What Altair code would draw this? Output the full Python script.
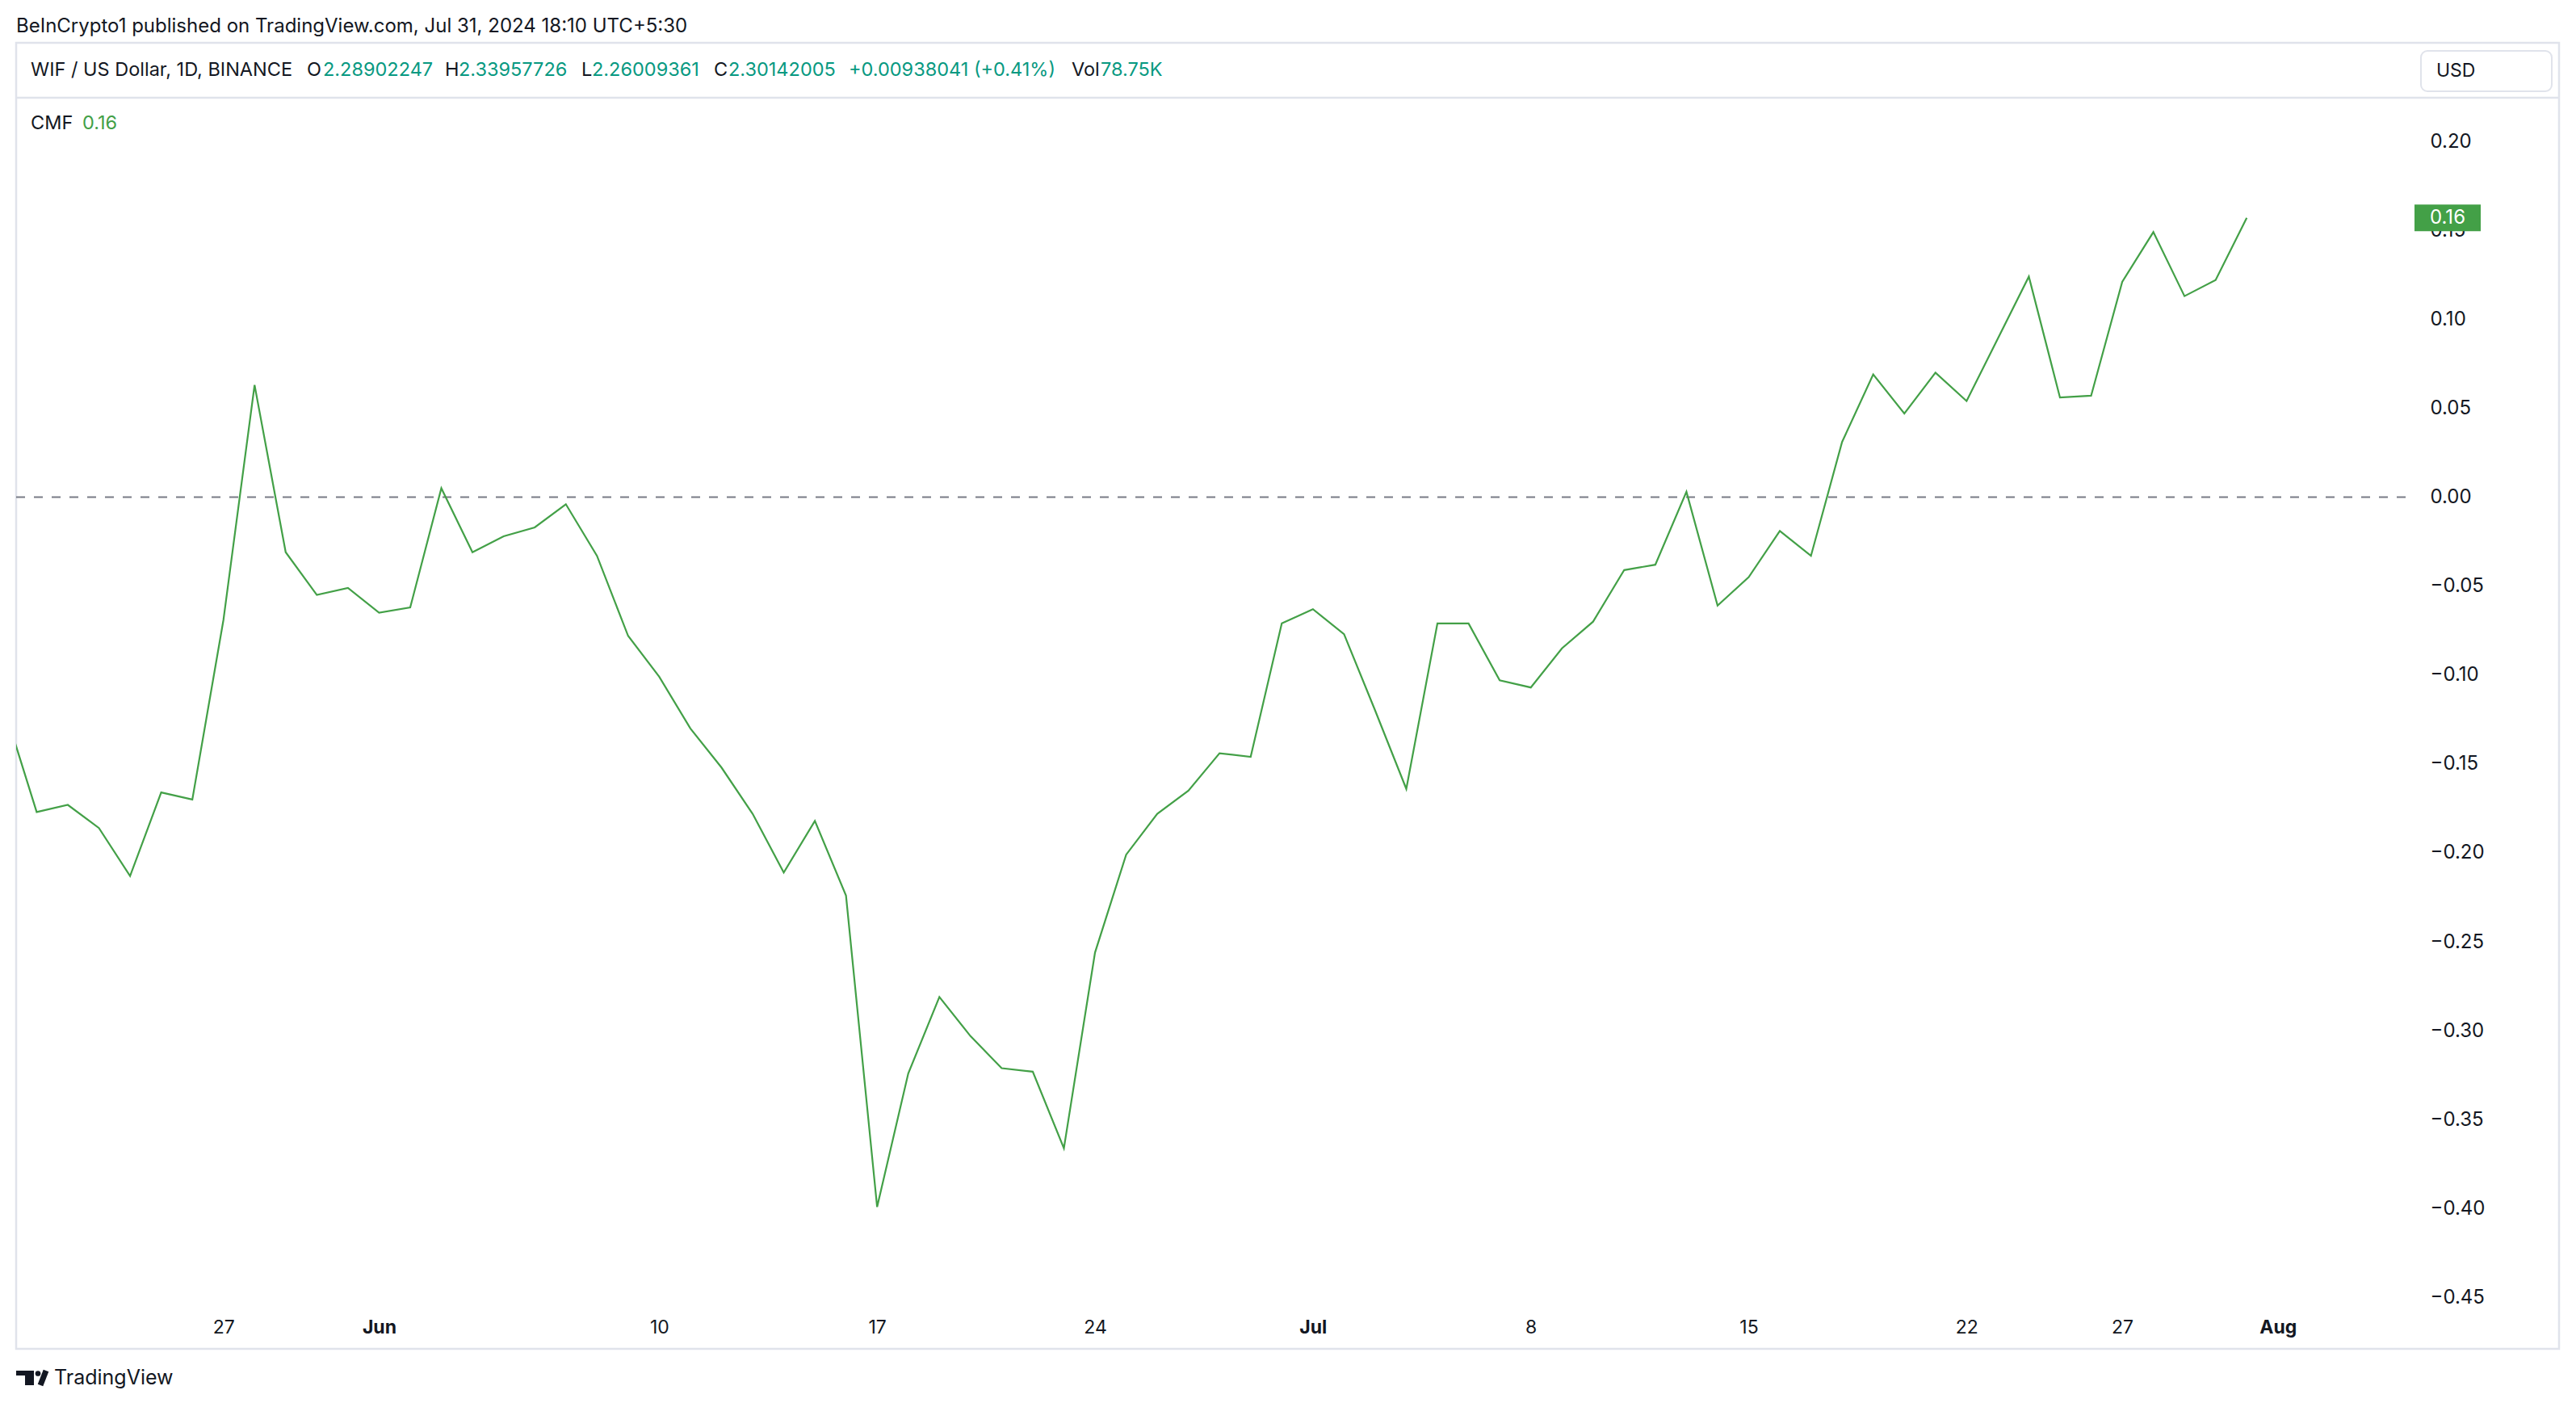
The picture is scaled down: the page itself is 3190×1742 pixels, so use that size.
import json
import altair as alt
import pandas as pd

# ---------------- data ----------------
dates = [d.strftime("%Y-%m-%d") for d in pd.date_range("2024-05-20", "2024-07-31", freq="D")]
cmf = [
    -0.121, -0.177, -0.173, -0.186, -0.213, -0.166, -0.170, -0.069, 0.063, -0.031, -0.055, -0.051,  # May 20-31
    -0.065, -0.062, 0.005, -0.031, -0.022, -0.017, -0.004, -0.033, -0.078, -0.101,                  # Jun 1-10
    -0.130, -0.152, -0.178, -0.211, -0.182, -0.224, -0.399, -0.324, -0.281, -0.303,                 # Jun 11-20
    -0.321, -0.323, -0.366, -0.256, -0.201, -0.178, -0.165, -0.144, -0.146, -0.071,                 # Jun 21-30
    -0.063, -0.077, -0.120, -0.164, -0.071, -0.071, -0.103, -0.107, -0.085, -0.070,                 # Jul 1-10
    -0.041, -0.038, 0.003, -0.061, -0.045, -0.019, -0.033, 0.031, 0.069, 0.047,                     # Jul 11-20
    0.070, 0.054, 0.089, 0.124, 0.056, 0.057, 0.121, 0.149, 0.113, 0.122, 0.157,                    # Jul 21-31
]

y_ticks = [0.20, 0.15, 0.10, 0.05, 0.00, -0.05, -0.10, -0.15, -0.20, -0.25, -0.30, -0.35, -0.40, -0.45]
x_tick_keys = ["05-27", "06-01", "06-10", "06-17", "06-24", "07-01", "07-08", "07-15", "07-22", "07-27", "08-01"]
x_tick_labels = ["27", "Jun", "10", "17", "24", "Jul", "8", "15", "22", "27", "Aug"]

top_text = "BeInCrypto1 published on TradingView.com, Jul 31, 2024 18:10 UTC+5:30"
header_parts = ["WIF / US Dollar, 1D, BINANCE", "O", "2.28902247", "H", "2.33957726", "L", "2.26009361",
                "C", "2.30142005", "+0.00938041 (+0.41%)", "Vol", "78.75K"]
header_kinds = ["k", "k", "v", "k", "v", "k", "v", "k", "v", "v", "k", "v"]
indicator_name = "CMF"
indicator_value = "0.16"
currency = "USD"
brand = "TradingView"

# ---------------- style / layout ----------------
FONT = "Inter"
DARK = "#131722"
TEAL = "#089981"
GREEN = "#43A047"
BORDER = "#E0E3EB"
W, H = 3149, 1617

header_x = [18, 360, 380, 531, 548, 700, 713, 864, 882, 1031, 1307, 1343]

df = pd.DataFrame({"date": dates, "cmf": cmf})

xscale = alt.Scale(
    type="utc",
    domain=[alt.DateTime(year=2024, month=5, date=20, hours=8, minutes=10, utc=True),
            alt.DateTime(year=2024, month=8, date=5, hours=3, minutes=7, utc=True)],
    range=[0, 2960], nice=False,
)
yscale = alt.Scale(domain=[-0.45, 0.20], range=[1553.6, 122], nice=False, zero=False)

x_values = [alt.DateTime(year=2024, month=int(k[:2]), date=int(k[3:]), utc=True) for k in x_tick_keys]
label_expr = f"{json.dumps(x_tick_labels)}[indexof({json.dumps(x_tick_keys)}, utcFormat(datum.value, '%m-%d'))]"

xaxis = alt.Axis(
    values=x_values, labelExpr=label_expr,
    labelFontWeight={"condition": {"test": "utcdate(datum.value) == 1", "value": "bold"}, "value": "normal"},
    orient="bottom", offset=-27, domain=False, ticks=False, tickSize=0, labelPadding=0,
    labelBaseline="middle", labelFont=FONT, labelFontSize=23, labelColor=DARK, grid=False,
    title=None, labelFlush=False, labelOverlap=False,
)
yaxis = alt.Axis(
    values=y_ticks, format=".2f", orient="right", offset=-160, domain=False, ticks=False, tickSize=0,
    labelPadding=0, labelAlign="left", labelBaseline="middle", labelFont=FONT, labelFontSize=24,
    labelColor=DARK, grid=False, title=None, labelFlush=False, labelOverlap=False,
)

line = alt.Chart(df).mark_line(color=GREEN, strokeWidth=2.2, clip=True).encode(
    x=alt.X("date:T", scale=xscale, axis=xaxis),
    y=alt.Y("cmf:Q", scale=yscale, axis=yaxis),
)

zero = alt.Chart(pd.DataFrame({"cmf": [0.0]})).mark_rule(
    color="#787B86", strokeWidth=2, strokeDash=[11, 11]
).encode(y=alt.Y("cmf:Q", scale=yscale, axis=yaxis), x=alt.value(0), x2=alt.value(2960))

last = pd.DataFrame({"cmf": [cmf[-1]]})
last_box = alt.Chart(last).mark_rule(color=GREEN, strokeWidth=33, strokeCap="butt").encode(
    y=alt.Y("cmf:Q", scale=yscale, axis=yaxis), x=alt.value(2970), x2=alt.value(3052)
)
last_txt = alt.Chart(last).mark_text(
    align="left", baseline="middle", color="white", font=FONT, fontSize=24
).encode(y=alt.Y("cmf:Q", scale=yscale, axis=yaxis), x=alt.value(2989),
         text=alt.Text("cmf:Q", format=".2f"))

one = pd.DataFrame({"a": [0]})

sep = alt.Chart(one).mark_rule(color=BORDER, strokeWidth=2.5).encode(
    y=alt.value(68), x=alt.value(0), x2=alt.value(W)
)
usd_box = alt.Chart(one).mark_rect(fill="white", stroke=BORDER, strokeWidth=2, cornerRadius=8).encode(
    x=alt.value(2978), x2=alt.value(3140), y=alt.value(10), y2=alt.value(60)
)


def txt(s, x, y, size=24, color=DARK, weight="normal"):
    return alt.Chart(pd.DataFrame({"t": [s]})).mark_text(
        align="left", baseline="middle", font=FONT, fontSize=size, color=color, fontWeight=weight
    ).encode(x=alt.value(x), y=alt.value(y), text="t:N")


texts = [txt(top_text, 0, -20, size=24)]
for part, kind, hx in zip(header_parts, header_kinds, header_x):
    texts.append(txt(part, hx, 34, size=23.5, color=TEAL if kind == "v" else DARK))
texts.append(txt(indicator_name, 18, 100, size=23.5))
texts.append(txt(indicator_value, 82, 100, size=23.5, color=GREEN))
texts.append(txt(currency, 2997, 35, size=23))
texts.append(txt(brand, 47, 1653, size=25))

# logo
logo_bar = alt.Chart(one).mark_rect(color=DARK).encode(
    x=alt.value(0), x2=alt.value(22), y=alt.value(1644), y2=alt.value(1650))
logo_stem = alt.Chart(one).mark_rect(color=DARK).encode(
    x=alt.value(11), x2=alt.value(22), y=alt.value(1644), y2=alt.value(1662))
logo_dot = alt.Chart(one).mark_circle(color=DARK, opacity=1, size=45).encode(
    x=alt.value(27), y=alt.value(1647.5))
logo_slash = alt.Chart(one).mark_rule(color=DARK, strokeWidth=7).encode(
    x=alt.value(30), y=alt.value(1662), x2=alt.value(37), y2=alt.value(1644))

chart = alt.layer(
    sep, usd_box, zero, line, last_box, last_txt, *texts, logo_bar, logo_stem, logo_dot, logo_slash
).properties(
    width=W, height=H,
    padding={"left": 12, "top": 45, "right": 12, "bottom": 60},
    autosize=alt.AutoSizeParams(type="none"),
    background="white",
).configure_view(stroke=BORDER, strokeWidth=2.5)

chart.save("out.html", embed_options={"renderer": "svg", "actions": False})
